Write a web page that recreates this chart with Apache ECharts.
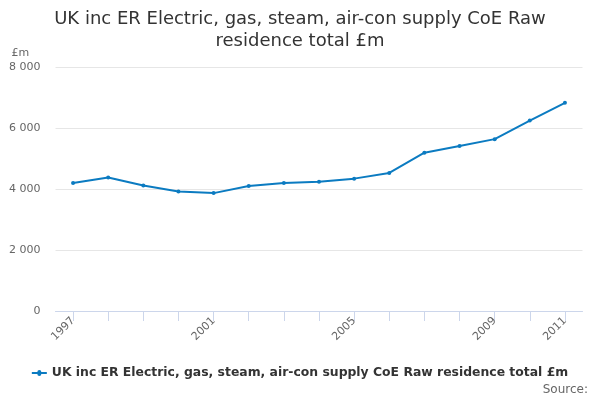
<!DOCTYPE html>
<html><head><meta charset="utf-8">
<script src="https://cdn.jsdelivr.net/npm/echarts@6/dist/echarts.min.js"></script>
<style>html,body{margin:0;padding:0;background:#fff}#c{width:600px;height:400px}</style>
</head><body><div id="c"></div>
<script>
const categories = ['1997','1998','1999','2000','2001','2002','2003','2004','2005','2006','2007','2008','2009','2010','2011'];
const values = [4200,4375,4115,3920,3865,4100,4200,4235,4340,4525,5190,5410,5635,6245,6825];
const shownLabels = ['1997','2001','2005','2009','2011'];
const yTicks = [0,2000,4000,6000,8000];
const seriesName = 'UK inc ER Electric, gas, steam, air-con supply CoE Raw residence total £m';
const titleText = 'UK inc ER Electric, gas, steam, air-con supply CoE Raw\nresidence total £m';

const chart = echarts.init(document.getElementById('c'));
const font = 'DejaVu Sans';
chart.setOption({
  animation:false,
  textStyle:{fontFamily:font},
  title:{text:titleText,left:'center',top:3,
    textStyle:{fontFamily:font,fontSize:18,fontWeight:'normal',color:'#333',lineHeight:22}},
  grid:{left:55.5,right:17.5,top:67,bottom:89,containLabel:false},
  xAxis:{type:'category',data:categories,boundaryGap:true,
    axisLine:{lineStyle:{color:'#ccd6eb'}},
    axisTick:{show:true,alignWithLabel:true,length:10,lineStyle:{color:'#ccd6eb'},interval:0},
    axisLabel:{rotate:45,color:'#666',fontSize:11,margin:8,
      interval:(i,v)=>shownLabels.includes(v)}},
  yAxis:{type:'value',min:yTicks[0],max:yTicks[yTicks.length-1],interval:2000,
    name:'£m',nameLocation:'end',nameGap:8,
    nameTextStyle:{color:'#666',fontSize:11,align:'left',padding:[0,0,0,-44]},
    axisLine:{show:false},axisTick:{show:false},
    splitLine:{lineStyle:{color:'#e6e6e6'}},
    axisLabel:{color:'#666',fontSize:11,margin:15,
      formatter:v=>v===0?'0':String(v).replace(/\B(?=(\d{3})+(?!\d))/g,' ')}},
  legend:{bottom:16,left:'center',itemWidth:15,itemHeight:6,itemGap:6,
    textStyle:{fontFamily:font,fontSize:12.4,fontWeight:'bold',color:'#333'},
    data:[{name:seriesName,icon:'path://M0,2 L5.5,2 A2,2 0 0 1 9.5,2 L15,2 L15,4 L9.5,4 A2,2 0 0 1 5.5,4 L0,4 Z'}]},
  graphic:[{type:'text',right:12,bottom:4,
    style:{text:'Source:',fontFamily:font,fontSize:12,fill:'#666'}}],
  series:[{name:seriesName,type:'line',data:values,
    lineStyle:{color:'#0b7bc1',width:2},
    itemStyle:{color:'#0b7bc1'},
    symbol:'circle',symbolSize:4,showSymbol:true}]
});
</script></body></html>
